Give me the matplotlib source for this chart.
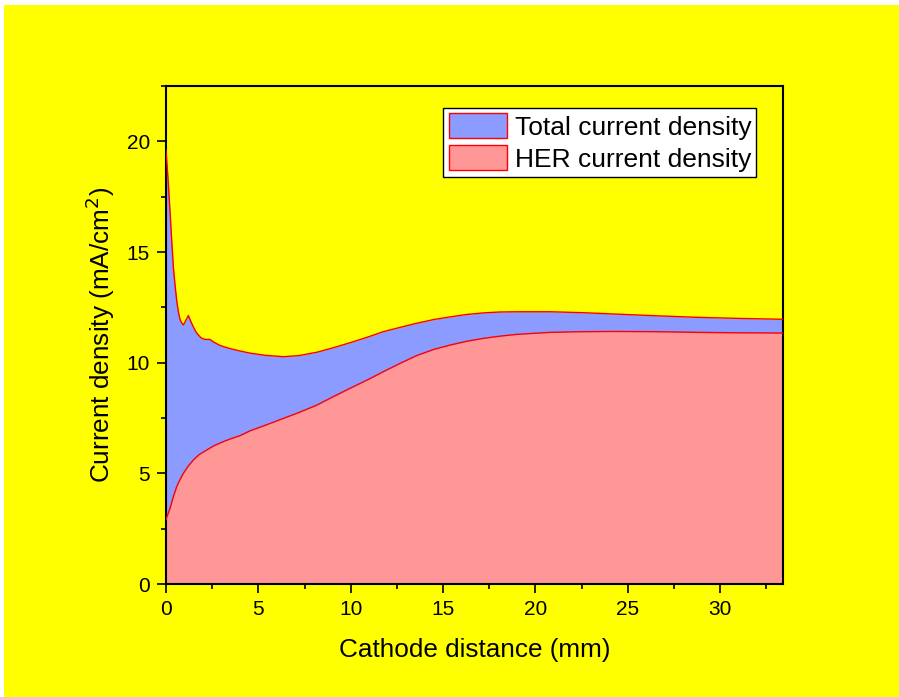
import matplotlib
matplotlib.use("Agg")
import matplotlib.pyplot as plt
from matplotlib.patches import Patch, Rectangle
from matplotlib.ticker import MultipleLocator

plt.rcParams['font.family'] = ['Liberation Sans', 'DejaVu Sans']

# Total current density
total_x = [0.0, 0.11, 0.22, 0.31, 0.4, 0.49, 0.58, 0.67, 0.76, 0.85, 0.94, 1.21, 1.35,
           1.48, 1.6, 1.75, 1.9, 2.11, 2.38, 2.6, 2.92, 3.4, 4.0, 4.55, 5.4, 6.35, 7.2,
           8.16, 9.0, 9.96, 10.9, 11.76, 12.7, 13.57, 14.5, 15.4, 16.3, 17.2, 18.1,
           19.0, 20.8, 22.5, 24.2, 26.5, 28.7, 31.0, 33.4]
total_y = [19.6, 18.3, 16.8, 15.5, 14.3, 13.5, 12.8, 12.3, 11.95, 11.8, 11.7, 12.13, 11.85,
           11.62, 11.42, 11.25, 11.12, 11.05, 11.05, 10.92, 10.78, 10.65, 10.53, 10.43, 10.33,
           10.27, 10.32, 10.47, 10.66, 10.9, 11.15, 11.4, 11.6, 11.78, 11.95, 12.07, 12.18,
           12.25, 12.29, 12.3, 12.3, 12.26, 12.2, 12.12, 12.05, 12.0, 11.96]

# HER current density
her_x = [0.0, 0.22, 0.4, 0.58, 0.76, 0.94, 1.2, 1.48, 1.8, 2.2, 2.6, 3.1, 3.5, 4.0,
         4.55, 5.4, 6.35, 7.2, 8.16, 9.0, 9.96, 10.9, 11.76, 12.7, 13.57, 14.5, 15.4,
         16.3, 17.2, 18.1, 19.0, 20.8, 22.5, 24.2, 26.5, 28.7, 31.0, 33.4]
her_y = [2.92, 3.42, 3.95, 4.4, 4.72, 5.0, 5.32, 5.6, 5.85, 6.05, 6.25, 6.43, 6.56, 6.7,
         6.92, 7.18, 7.48, 7.75, 8.08, 8.44, 8.84, 9.22, 9.59, 9.98, 10.32, 10.6, 10.8,
         10.97, 11.1, 11.2, 11.28, 11.37, 11.4, 11.41, 11.4, 11.37, 11.35, 11.34]

labels = ['Total current density', 'HER current density']
blue = '#8C9BFF'
pink = '#FF9797'
red = '#FF0000'

W, H = 899, 697
fig = plt.figure(figsize=(W / 100, H / 100), dpi=100)
fig.patch.set_facecolor('white')
fig.patches.append(Rectangle((4 / W, 0), 1 - 4 / W, 1 - 5 / H, transform=fig.transFigure,
                             facecolor='#FFFF00', edgecolor='none', zorder=-10))

ax = fig.add_axes([166 / W, 1 - 584 / H, (783 - 166) / W, (584 - 86) / H])
ax.set_facecolor('#FFFF00')

ax.fill_between(total_x, 0, total_y, color=blue, lw=0, zorder=1)
ax.fill_between(her_x, 0, her_y, color=pink, lw=0, zorder=2)
ax.plot(total_x, total_y, color=red, lw=1.0, zorder=3, solid_joinstyle='round')
ax.plot(her_x, her_y, color=red, lw=1.0, zorder=3, solid_joinstyle='round')

ax.set_xlim(0, 33.4)
ax.set_ylim(0, 22.5)
ax.xaxis.set_major_locator(MultipleLocator(5))
ax.xaxis.set_minor_locator(MultipleLocator(2.5))
ax.yaxis.set_major_locator(MultipleLocator(5))
ax.yaxis.set_minor_locator(MultipleLocator(2.5))
ax.tick_params(which='major', direction='out', length=6.5, width=1.2, labelsize=15, pad=5)
ax.tick_params(which='minor', direction='out', length=3.3, width=1.2)
for s in ax.spines.values():
    s.set_linewidth(1.5)

ax.set_xlabel('Cathode distance (mm)', fontsize=18.8, labelpad=14)
ax.set_ylabel('Current density (mA/cm$^2$)', fontsize=18.8, labelpad=7)

handles = [Patch(facecolor=blue, edgecolor=red, lw=1.0),
           Patch(facecolor=pink, edgecolor=red, lw=1.0)]
leg = ax.legend(handles, labels, loc='upper right', bbox_to_anchor=(0.957, 0.956),
                fontsize=19, frameon=True, fancybox=False, framealpha=1,
                edgecolor='black', borderpad=0.2, handlelength=2.2, handleheight=1.06,
                handletextpad=0.3, labelspacing=0.22, borderaxespad=0)
leg.get_frame().set_linewidth(1.0)

fig.savefig('out.png', dpi=100, facecolor=fig.get_facecolor())
